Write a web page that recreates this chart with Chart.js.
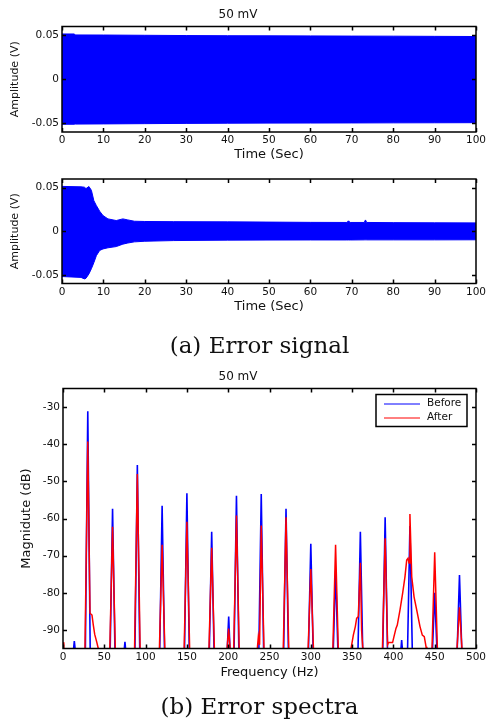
<!DOCTYPE html>
<html>
<head>
<meta charset="utf-8">
<script src="https://cdn.jsdelivr.net/npm/chart.js@4.4.1/dist/chart.umd.min.js"></script>
<style>
  body { margin: 0; background: #fff; width: 486px; height: 722px; position: relative; overflow: hidden; }
  canvas { position: absolute; left: 0; }
  .cap { position: absolute; left: 0; width: 519px; text-align: center; font-family: "DejaVu Serif", serif; font-size: 23px; line-height: 28px; color: #111; }
</style>
</head>
<body>
<canvas id="sigBefore" width="486" height="165" style="top:0"></canvas>
<canvas id="sigAfter" width="486" height="157" style="top:160px"></canvas>
<div class="cap" style="top:331px">(a) Error signal</div>
<canvas id="spectra" width="486" height="320" style="top:362px"></canvas>
<div class="cap" style="top:692px">(b) Error spectra</div>
<script>
Chart.defaults.font.family = '"DejaVu Sans", sans-serif';
Chart.defaults.color = '#111';
Chart.defaults.animation = false;

// ticks
const timeTicks = [0, 10, 20, 30, 40, 50, 60, 70, 80, 90, 100];
const ampTicks = [-0.05, 0, 0.05];
const ampTickLabels = ['-0.05', '0', '0.05'];
const freqTicks = [0, 50, 100, 150, 200, 250, 300, 350, 400, 450, 500];
const dbTicks = [-90, -80, -70, -60, -50, -40, -30];

// error signal envelope, control off (top plot)
const offTime  = [0, 3, 3.2, 10, 20, 30, 40, 50, 60, 70, 80, 90, 100];
const offUpper = [0.0515, 0.0515, 0.0504, 0.0503, 0.0500, 0.0497, 0.0495, 0.0494, 0.0493, 0.0491, 0.0490, 0.0488, 0.0486];
const offLower = [-0.0512, -0.0512, -0.0510, -0.0508, -0.0505, -0.0502, -0.0500, -0.0499, -0.0498, -0.0497, -0.0496, -0.0495, -0.0494];

// error signal envelope, control on (second plot)
const onTime  = [0, 4.6, 5.4, 5.8, 6.5, 7.1, 7.7, 8.3, 9.1, 9.9, 11.1, 13.1, 14.7, 15.9, 17.5, 20, 27, 40, 50, 60, 68.8, 69.2, 69.6, 73, 73.3, 73.6, 80, 90, 100];
const onUpper = [0.0515, 0.0510, 0.0506, 0.0490, 0.0514, 0.0470, 0.0350, 0.0295, 0.0230, 0.0180, 0.0142, 0.0123, 0.0142, 0.0130, 0.0115, 0.0112, 0.0110, 0.0108, 0.0105, 0.0102, 0.0101, 0.0120, 0.0101, 0.0101, 0.0130, 0.0101, 0.0099, 0.0097, 0.0096];
const onLower = [-0.0520, -0.0530, -0.0547, -0.0540, -0.0490, -0.0430, -0.0360, -0.0280, -0.0220, -0.0203, -0.0190, -0.0176, -0.0148, -0.0135, -0.0122, -0.0115, -0.0107, -0.0102, -0.0101, -0.0100, -0.0100, -0.0100, -0.0100, -0.0099, -0.0099, -0.0099, -0.0099, -0.0099, -0.0098];

// spectra (points below -95 dB fall under the axis and get clipped)
const seriesNames = ['Before', 'After'];
const beforeHz = [0, 12, 13.7, 15.5, 27, 30, 33, 57, 60, 63, 73.5, 75, 76.5, 87, 90, 93,
  117, 120, 123, 147, 150, 153, 177, 180, 183, 198.5, 200.6, 202.5, 207, 210, 213,
  237, 240, 243, 267, 270, 273, 297, 300, 303, 327, 330, 333, 357, 360, 363,
  387, 390, 393, 408.5, 410, 411.5, 417, 420, 423, 447, 450, 453, 477, 480, 483, 500];
const beforeDb = [-97, -97, -93, -97, -97, -31.1, -97, -97, -57.4, -97, -97, -93.2, -97, -97, -45.6, -97,
  -97, -56.6, -97, -97, -53.2, -97, -97, -63.6, -97, -97, -86.4, -97, -97, -53.9, -97,
  -97, -53.4, -97, -97, -57.4, -97, -97, -66.8, -97, -97, -74, -97, -97, -63.6, -97,
  -97, -59.7, -97, -97, -92.7, -97, -97, -62, -97, -97, -80, -97, -97, -75.2, -97, -97];
const afterHz = [0, 1, 26.5, 30, 32.7, 35.1, 36.7, 38.4, 40.8, 42.7, 44, 56.5, 60, 63.5, 86.5, 90, 93.5,
  116.5, 120, 123.5, 146.5, 150, 153.5, 176.5, 180, 183.5, 198, 200.5, 203, 206.5, 210, 213.5,
  234.5, 236.5, 238, 240, 243.5, 266.5, 270, 273.5, 296.5, 300, 303.5, 326.5, 330, 333.5,
  348, 348.7, 351.5, 353.9, 355.5, 357.5, 360, 361.5, 362.8, 365,
  386.5, 390, 393, 394, 399, 400.7, 403.1, 404.7, 408, 411.2, 414, 416.1, 417.7, 418.9, 420,
  422.2, 425, 428.2, 432.2, 435, 437.4, 439.5, 440.5, 446.5, 450, 453.5, 476.5, 480, 483.5, 500];
const afterDb = [-93.3, -97, -97, -39.3, -85.5, -86, -88.7, -91.2, -93.2, -95, -97, -97, -62.2, -97, -97, -48, -97,
  -97, -67.1, -97, -97, -60.9, -97, -97, -67.9, -97, -97, -89.6, -97, -97, -59.2, -97,
  -97, -91.8, -94, -61.9, -97, -97, -59.7, -97, -97, -73.6, -97, -97, -67.1, -97,
  -97, -95, -91.4, -89.1, -86.9, -86.4, -71.9, -90, -94.5, -97,
  -97, -65.3, -94, -93.4, -93.4, -91.8, -89.6, -88.7, -84.6, -80.1, -75.7, -71.2, -70.7, -72, -58.8,
  -75.7, -81.1, -84.6, -89.1, -91.4, -91.8, -94.5, -97, -97, -69.1, -97, -97, -83.9, -97, -97];

const pts = (xs, ys) => xs.map((x, i) => ({x: x, y: ys[i]}));

// box with inward ticks, matlab style
const frame = {
  id: 'frame',
  afterDraw(chart) {
    const {ctx, chartArea: a, scales: {x, y}} = chart;
    ctx.save();
    ctx.strokeStyle = '#000';
    ctx.lineWidth = 1.5;
    ctx.beginPath();
    ctx.rect(a.left, a.top, a.right - a.left, a.bottom - a.top);
    x.ticks.forEach(t => {
      const px = Math.round(x.getPixelForValue(t.value)) + 0.5;
      ctx.moveTo(px, a.bottom); ctx.lineTo(px, a.bottom - 4);
      ctx.moveTo(px, a.top); ctx.lineTo(px, a.top + 4);
    });
    y.ticks.forEach(t => {
      const py = Math.round(y.getPixelForValue(t.value)) + 0.5;
      ctx.moveTo(a.left, py); ctx.lineTo(a.left + 4, py);
      ctx.moveTo(a.right, py); ctx.lineTo(a.right - 4, py);
    });
    ctx.stroke();
    ctx.restore();
  }
};

const boxLegend = {
  id: 'boxLegend',
  afterDraw(chart) {
    const {ctx, chartArea: a} = chart;
    const left = a.right - 100, top = a.top + 6;
    ctx.save();
    ctx.fillStyle = '#fff';
    ctx.fillRect(left, top, 91, 32);
    ctx.strokeStyle = '#000';
    ctx.lineWidth = 1.5;
    ctx.strokeRect(left, top, 91, 32);
    ctx.font = '10.5px "DejaVu Sans"';
    ctx.textBaseline = 'middle';
    chart.data.datasets.slice().sort((p, q) => q.order - p.order).forEach((ds, i) => {
      const yy = top + 9 + i * 14;
      ctx.strokeStyle = ds.borderColor;
      ctx.lineWidth = 1;
      ctx.beginPath();
      ctx.moveTo(left + 8, yy + 0.5); ctx.lineTo(left + 44, yy + 0.5);
      ctx.stroke();
      ctx.fillStyle = '#111';
      ctx.fillText(ds.label, left + 51, yy);
    });
    ctx.restore();
  }
};

function setTicks(list) {
  return s => { s.ticks = list.map(v => ({value: v})); };
}

function makeOpts(o) {
  return {
    responsive: false,
    layout: {padding: {left: 0, right: 10, top: o.padTop || 0, bottom: 0}},
    plugins: {
      legend: {display: false},
      tooltip: {enabled: false},
      title: o.title ? {display: true, text: o.title, font: {size: 12, weight: 'normal'}, color: '#111', padding: {top: 8, bottom: 4.1}} : {display: false}
    },
    scales: {
      x: {
        type: 'linear', min: o.xMin, max: o.xMax,
        grid: {display: false, drawTicks: false}, border: {display: false},
        afterBuildTicks: setTicks(o.xTicks),
        afterFit: s => { s.height = o.xHeight; s.paddingLeft = 0; s.paddingRight = 0; },
        ticks: {font: {size: 10.5}, padding: 2, maxRotation: 0, autoSkip: false},
        title: {display: true, text: o.xTitle, font: {size: 13}, padding: {top: 0, bottom: o.xTitlePad}}
      },
      y: {
        type: 'linear', min: o.yMin, max: o.yMax,
        grid: {display: false, drawTicks: false}, border: {display: false},
        afterBuildTicks: setTicks(o.yTicks),
        afterFit: s => { s.width = o.yWidth; s.paddingTop = 0; s.paddingBottom = 0; },
        ticks: {font: {size: 10.5}, padding: 3, callback: o.yLabel},
        title: {display: true, text: o.yTitle, font: {size: o.yTitleSize}, padding: {top: o.yTitlePad, bottom: 0}}
      }
    }
  };
}

function envelope(id, t, up, lo, o) {
  new Chart(document.getElementById(id), {
    type: 'line',
    data: {
      datasets: [
        {data: pts(t, up), borderColor: '#0000ff', borderWidth: 1, pointRadius: 0, fill: false, clip: 0},
        {data: pts(t, lo), borderColor: '#0000ff', backgroundColor: '#0000ff', borderWidth: 1, pointRadius: 0, fill: '-1', clip: 0}
      ]
    },
    options: makeOpts(Object.assign({
      xMin: 0, xMax: 100, xTicks: timeTicks, xTitle: 'Time (Sec)',
      yMin: -0.06, yMax: 0.06, yTicks: ampTicks, yTitle: 'Amplitude (V)', yTitleSize: 11, yTitlePad: 8.4,
      yLabel: (v, i) => ampTickLabels[i], yWidth: 62
    }, o)),
    plugins: [frame]
  });
}

envelope('sigBefore', offTime, offUpper, offLower, {title: '50 mV', xHeight: 33, xTitlePad: 2.2});
envelope('sigAfter', onTime, onUpper, onLower, {padTop: 19, xHeight: 33.5, xTitlePad: 2.4});

new Chart(document.getElementById('spectra'), {
  type: 'line',
  data: {
    datasets: [
      {label: seriesNames[0], data: pts(beforeHz, beforeDb), borderColor: '#0000ff', borderWidth: 1.6, pointRadius: 0, fill: false, clip: 0, order: 2},
      {label: seriesNames[1], data: pts(afterHz, afterDb), borderColor: '#ff0000', borderWidth: 1.5, pointRadius: 0, fill: false, clip: 0, order: 1}
    ]
  },
  options: makeOpts({
    title: '50 mV', xMin: 0, xMax: 500, xTicks: freqTicks, xTitle: 'Frequency (Hz)', xHeight: 33.5, xTitlePad: 1.9,
    yMin: -95, yMax: -25, yTicks: dbTicks, yTitle: 'Magnidute (dB)', yTitleSize: 13, yTitlePad: 19,
    yLabel: v => String(v), yWidth: 63
  }),
  plugins: [frame, boxLegend]
});
</script>
</body>
</html>
